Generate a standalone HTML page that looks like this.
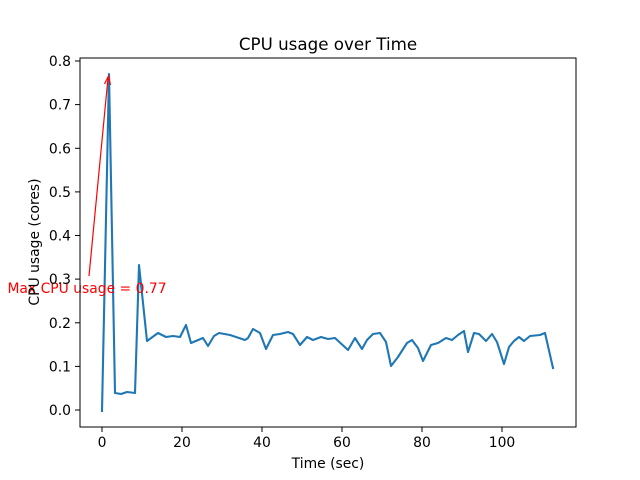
<!DOCTYPE html>
<html><head><meta charset="utf-8"><style>body{margin:0;background:#fff}svg{display:block}text{font-family:"DejaVu Sans","Liberation Sans",sans-serif}</style></head><body>
<svg width="640" height="480" viewBox="0 0 640 480">
<rect width="640" height="480" fill="#fff"/>
<polyline fill="none" stroke="#1f77b4" stroke-width="2.1" stroke-linejoin="round" stroke-linecap="square" points="102,411 109,74 115,393 121,394 127,392 135,393 139,265 147,341 158,333 166,337 173,336 180,337 186,325 191,343 203,338 208,346 214,336 219,333 230,335 245,340 248,338 253,329 260,333 266,349 273,335 280,334 288,332 293,334 300,345 307,337 313,340 321,337 328,339 335,338 348,350 355,338 362,349 367,340 373,334 380,333 386,342 391,366 398,357 407,343 412,340 418,348 423,361 431,345 438,343 446,338 452,340 458,335 464,331 468,352 474,333 479,334 486,341 492,334 497,342 504,364 509,347 514,341 519,337 524,341 530,336 540,335 545,333 553,368"/>
<line x1="89" y1="276" x2="108" y2="78" stroke="red" stroke-width="1.2"/>
<polyline points="104.5,84 108.5,76 110.5,85" fill="none" stroke="red" stroke-width="1.2"/>
<text x="87" y="293" fill="red" font-size="13.9" text-anchor="middle">Max CPU usage = 0.77</text>
<rect x="80" y="58" width="496" height="369" fill="none" stroke="#000" stroke-width="1"/>
<g stroke="#000" stroke-width="1">
<line x1="102" y1="427" x2="102" y2="432"/><line x1="182" y1="427" x2="182" y2="432"/><line x1="262" y1="427" x2="262" y2="432"/><line x1="342" y1="427" x2="342" y2="432"/><line x1="422" y1="427" x2="422" y2="432"/><line x1="502" y1="427" x2="502" y2="432"/>
<line x1="75" y1="410" x2="80" y2="410"/><line x1="75" y1="366.4" x2="80" y2="366.4"/><line x1="75" y1="322.8" x2="80" y2="322.8"/><line x1="75" y1="279.1" x2="80" y2="279.1"/><line x1="75" y1="235.5" x2="80" y2="235.5"/><line x1="75" y1="191.9" x2="80" y2="191.9"/><line x1="75" y1="148.3" x2="80" y2="148.3"/><line x1="75" y1="104.6" x2="80" y2="104.6"/><line x1="75" y1="61" x2="80" y2="61"/>
</g>
<g font-size="13.9" text-anchor="middle">
<text x="102" y="447">0</text><text x="182" y="447">20</text><text x="262" y="447">40</text><text x="342" y="447">60</text><text x="422" y="447">80</text><text x="502" y="447">100</text>
</g>
<g font-size="13.9" text-anchor="end">
<text x="71" y="415">0.0</text><text x="71" y="371.4">0.1</text><text x="71" y="327.8">0.2</text><text x="71" y="284.1">0.3</text><text x="71" y="240.5">0.4</text><text x="71" y="196.9">0.5</text><text x="71" y="153.3">0.6</text><text x="71" y="109.6">0.7</text><text x="71" y="66">0.8</text>
</g>
<text x="328" y="468" font-size="13.9" text-anchor="middle">Time (sec)</text>
<text transform="translate(39,242) rotate(-90)" font-size="13.9" text-anchor="middle">CPU usage (cores)</text>
<text x="328" y="50" font-size="16.7" text-anchor="middle">CPU usage over Time</text>
</svg>
</body></html>
